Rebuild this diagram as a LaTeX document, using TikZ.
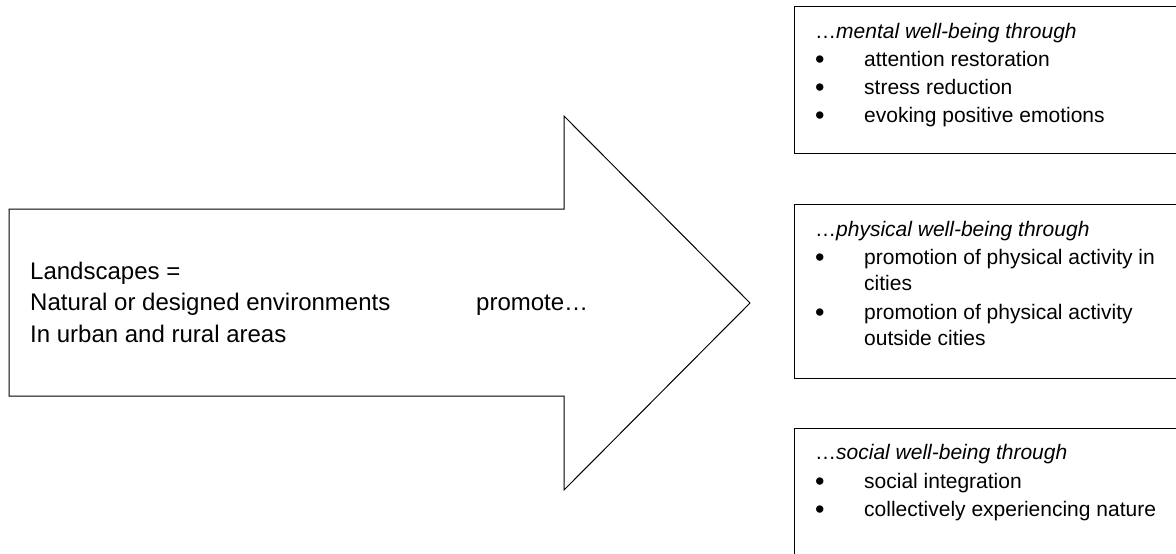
\documentclass[tikz,border=0pt]{standalone}
\usepackage{fontspec}
\setmainfont{Liberation Sans}
\begin{document}
\begin{tikzpicture}[x=1pt,y=1pt,
  bigtxt/.style={anchor=base west, inner sep=0pt, font=\fontsize{24}{28}\selectfont},
  smalltxt/.style={anchor=base west, inner sep=0pt, font=\fontsize{21}{25}\selectfont},
  dot/.style={anchor=base west, inner sep=0pt, font=\fontsize{27}{30}\selectfont, yshift=-2pt},
  panel/.style={draw, line width=1.2pt, rectangle, anchor=north west, inner sep=0pt, minimum width=420pt},
  bigarrow/.style={draw, line width=1pt, line join=miter}]
\clip (0,0) rectangle (1176,-554);

% the large arrow pointing right
\draw[bigarrow] (9,-209) -- (564,-209) -- (564,-116) -- (750,-303)
  -- (564,-490) -- (564,-396) -- (9,-396) -- cycle;

\node[bigtxt] (land) at (30,-279) {Landscapes =};
\node[bigtxt] (nat)  at (30,-310) {Natural or designed environments};
\node[bigtxt] (urb)  at (30,-342) {In urban and rural areas};
\node[bigtxt] (prom) at (476,-310) {promote…};

% three result panels, running off the right edge
\node[panel, minimum height=147pt] (mental) at (794,-6) {};
\node[panel, minimum height=174pt] (physical) at (794,-204) {};
\node[panel, minimum height=180pt] (social) at (794,-428) {};

% mental
\node[smalltxt] (mt) at (815,-38) {…\textit{mental well-being through}};
\node[dot] (mb1) at (815,-66) {•};
\node[smalltxt] (m1) at (864,-66) {attention restoration};
\node[dot] (mb2) at (815,-94) {•};
\node[smalltxt] (m2) at (864,-94) {stress reduction};
\node[dot] (mb3) at (815,-122) {•};
\node[smalltxt] (m3) at (864,-122) {evoking positive emotions};

% physical
\node[smalltxt] (pt) at (815,-236) {…\textit{physical well-being through}};
\node[dot] (pb1) at (815,-264) {•};
\node[smalltxt] (p1a) at (864,-264) {promotion of physical activity in};
\node[smalltxt] (p1b) at (864,-290) {cities};
\node[dot] (pb2) at (815,-319) {•};
\node[smalltxt] (p2a) at (864,-319) {promotion of physical activity};
\node[smalltxt] (p2b) at (864,-345) {outside cities};

% social
\node[smalltxt] (st) at (815,-459) {…\textit{social well-being through}};
\node[dot] (sb1) at (815,-488) {•};
\node[smalltxt] (s1) at (864,-488) {social integration};
\node[dot] (sb2) at (815,-516) {•};
\node[smalltxt] (s2) at (864,-516) {collectively experiencing nature};
\end{tikzpicture}
\end{document}
